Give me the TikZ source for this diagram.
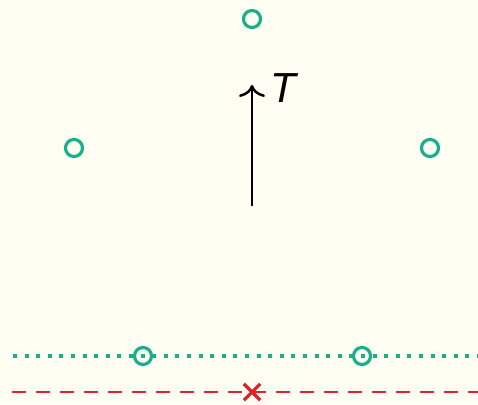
\documentclass[tikz,border=0pt]{standalone}
\usepackage{fontspec}
\setsansfont{Liberation Sans}
\usepackage{tikz}
\usepackage{xcolor}
\usetikzlibrary{arrows.meta}
\definecolor{paper}{HTML}{FEFEF2}
\definecolor{teal}{HTML}{1AAE8A}
\definecolor{redline}{HTML}{D9262B}

\begin{document}
\begin{tikzpicture}[x=1pt, y=-1pt,
    site/.style={draw=teal, circle, line width=3.2pt, minimum size=17pt, inner sep=0pt}]
    % Background
    \fill[paper] (0,0) rectangle (478,404);
    \useasboundingbox (0,0) rectangle (478,404);

    % Lines
    \draw[teal, line width=4.2pt, dash pattern=on 4pt off 7.6pt] (13,356) -- (478,356);
    \draw[redline, line width=2.8pt, dash pattern=on 14pt off 10pt] (12,392) -- (478,392);

    % Sites
    \node[site] (top) at (252,19) {};
    \node[site] (left) at (74,148) {};
    \node[site] (right) at (430,148) {};
    \node[site] (lowa) at (143,356) {};
    \node[site] (lowb) at (362,356) {};

    % Cross
    \node[inner sep=0pt, minimum size=16pt] (cross) at (252,392) {};
    \draw[redline, line width=3.2pt] (cross.north west) -- (cross.south east);
    \draw[redline, line width=3.2pt] (cross.north east) -- (cross.south west);

    % Arrow
    \coordinate (tail) at (252,206);
    \coordinate (head) at (252,85);
    \draw[-{To[length=12pt, width=26pt]}, line width=2.5pt] (tail) -- (head);
    \node[font=\sffamily\itshape\fontsize{42}{42}\selectfont] (tlabel) at (283,88) {T};
\end{tikzpicture}
\end{document}
